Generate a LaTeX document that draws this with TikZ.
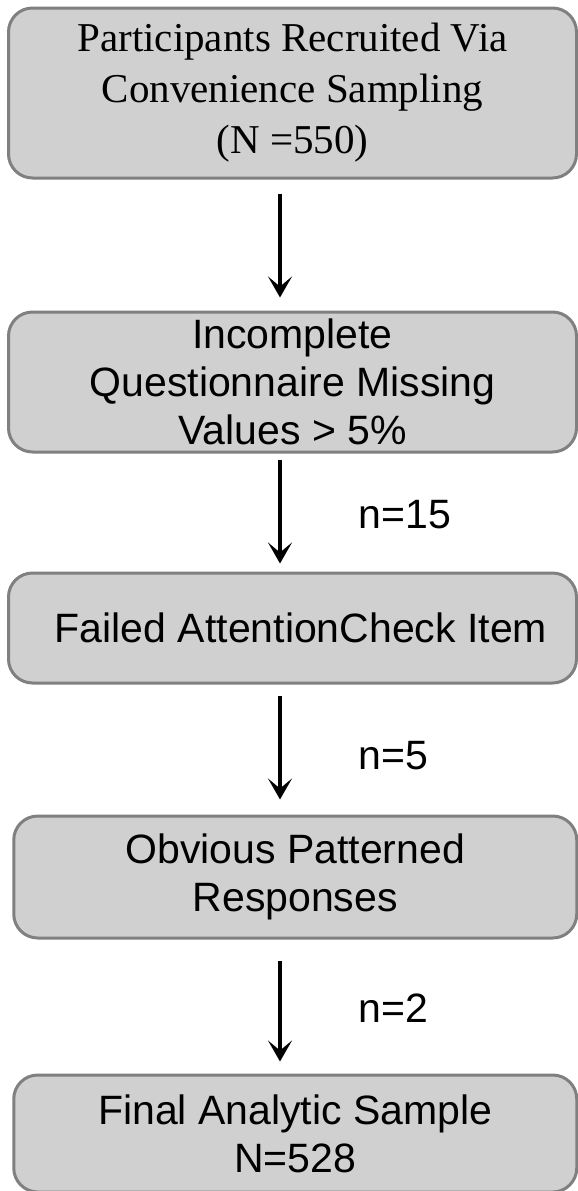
\documentclass[tikz,border=0pt]{standalone}
\usepackage{fontspec}
\setmainfont{Liberation Serif}
\setsansfont{Liberation Sans}
\usepackage{xcolor}
\usepackage{tikz}
\usetikzlibrary{positioning,calc,arrows.meta}
\definecolor{boxFill}{RGB}{208,208,208}
\definecolor{boxEdge}{RGB}{128,128,128}
\tikzset{
  flowBox/.style={
    rectangle,
    rounded corners=24pt,
    draw=boxEdge,
    line width=3pt,
    fill=boxFill,
    inner sep=0pt,
    minimum width=568pt,
    align=center,
    font=\sffamily\fontsize{41}{48}\selectfont
  },
  arrowLine/.style={
    -{Stealth[length=21pt,width=24pt,inset=10pt]},
    line width=4.5pt
  },
  countLabel/.style={
    anchor=west,
    xshift=73pt,
    font=\sffamily\fontsize{41}{48}\selectfont
  }
}

\begin{document}
\begin{tikzpicture}
        \useasboundingbox (0,0) rectangle (578pt,-1191pt);
        \coordinate (spine) at (280pt,0);

        \node[flowBox, minimum height=170pt, font=\rmfamily\fontsize{41}{51}\selectfont]
          (recruit) at (292.5pt,-93pt) {Participants Recruited Via\\Convenience Sampling\\(N =550)};
        \node[flowBox, minimum height=140pt, below=131pt of recruit] (incomplete)
          {Incomplete\\Questionnaire Missing\\Values > 5\%};
        \node[flowBox, minimum height=110pt, below=118pt of incomplete] (attention)
          {\hspace*{17pt}Failed AttentionCheck Item};
        \node[flowBox, minimum height=122pt, minimum width=563pt, below=130pt of attention, xshift=2.75pt] (pattern)
          {Obvious Patterned\\Responses};
        \node[flowBox, minimum height=117pt, minimum width=563pt, below=134pt of pattern] (final)
          {Final Analytic Sample\\N=528};

        \draw[arrowLine, shorten <=14pt, shorten >=13pt] (recruit.south -| spine) -- (incomplete.north -| spine);
        \draw[arrowLine, shorten <=6pt, shorten >=8pt] (incomplete.south -| spine) -- (attention.north -| spine)
          node[countLabel, midway, yshift=-2pt] (dropA) {n=15};
        \draw[arrowLine, shorten <=11pt, shorten >=15pt] (attention.south -| spine) -- (pattern.north -| spine)
          node[countLabel, midway, yshift=-6pt] (dropB) {n=5};
        \draw[arrowLine, shorten <=21pt, shorten >=12pt] (pattern.south -| spine) -- (final.north -| spine)
          node[countLabel, midway, yshift=-2pt] (dropC) {n=2};
    \end{tikzpicture}
\end{document}
